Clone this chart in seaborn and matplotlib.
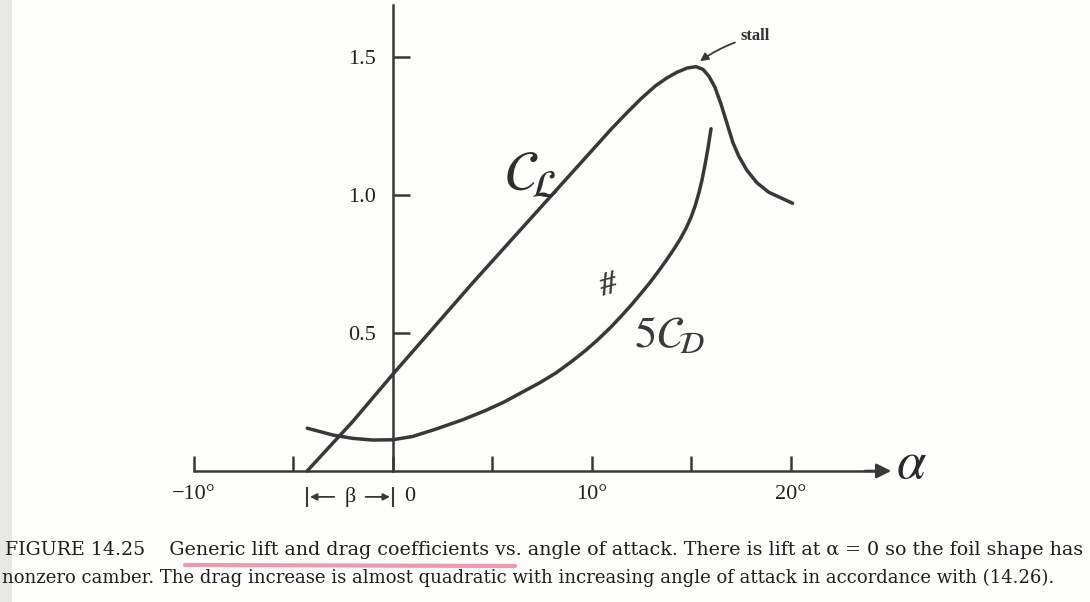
import numpy as np
import pandas as pd
import matplotlib
matplotlib.use('Agg')
import matplotlib.pyplot as plt
from matplotlib.lines import Line2D
from matplotlib.patches import Rectangle
import seaborn as sns

# values (alpha in degrees)
lift_alpha = [-4.3, -2.0, 0.0, 2.0, 4.0, 6.0, 8.0, 10.0, 11.0, 11.8, 12.5, 13.2, 13.8,
              14.3, 14.8, 15.25, 15.6, 15.9, 16.2, 16.5, 16.8, 17.1, 17.4,
              17.8, 18.3, 18.9, 19.5, 20.1]
lift_cl = [0.0, 0.18, 0.35, 0.515, 0.68, 0.84, 1.0, 1.16, 1.24, 1.30, 1.35, 1.395, 1.425,
           1.445, 1.46, 1.465, 1.455, 1.43, 1.39, 1.33, 1.26, 1.19, 1.14,
           1.09, 1.045, 1.01, 0.99, 0.97]

drag_alpha = [-4.3, -3.0, -2.0, -1.0, 0.0, 1.0, 2.1, 3.5, 4.7, 5.6, 6.5, 7.4, 8.2,
              9.0, 9.7, 10.3, 10.95, 11.5, 12.0, 12.5, 12.9, 13.3, 13.7, 14.1,
              14.45, 14.75, 15.0, 15.2, 15.4, 15.55, 15.7, 15.85, 16.0]
drag_5cd = [0.155, 0.13, 0.118, 0.112, 0.113, 0.125, 0.15, 0.185, 0.22, 0.25, 0.285,
            0.32, 0.355, 0.397, 0.437, 0.475, 0.52, 0.562, 0.602, 0.645, 0.68, 0.718,
            0.758, 0.80, 0.84, 0.88, 0.92, 0.96, 1.01, 1.055, 1.11, 1.17, 1.24]

xticks = [-10, -5, 0, 5, 10, 15, 20]
xlabels = ['\u221210\u00b0', '', '', '', '10\u00b0', '', '20\u00b0']
yticks = [0.5, 1.0, 1.5]
ylabels = ['0.5', '1.0', '1.5']
beta = -4.3

caption1 = ('FIGURE 14.25    Generic lift and drag coefficients vs. angle of attack. '
            'There is lift at \u03b1 = 0 so the foil shape has')
caption2 = ('nonzero camber. The drag increase is almost quadratic with increasing '
            'angle of attack in accordance with (14.26).')

ink = '#383838'

sns.set_theme(style='white')
plt.rcParams['font.family'] = ['Liberation Serif', 'DejaVu Serif']

fig = plt.figure(figsize=(10.9, 6.02), dpi=100)
fig.patch.set_facecolor('#fdfdfc')
ax = fig.add_axes([0.1413, 0.126, 0.730, 0.871])
ax.set_facecolor('none')

lift = pd.DataFrame({'alpha': lift_alpha, 'val': lift_cl})
drag = pd.DataFrame({'alpha': drag_alpha, 'val': drag_5cd})
sns.lineplot(data=lift, x='alpha', y='val', sort=False, color=ink, lw=2.5, ax=ax)
sns.lineplot(data=drag, x='alpha', y='val', sort=False, color=ink, lw=2.5, ax=ax)

ax.set_xlim(-12, 28)
ax.set_ylim(-0.2, 1.7)
ax.set_xlabel('')
ax.set_ylabel('')

for s in ['top', 'right']:
    ax.spines[s].set_visible(False)
ax.spines['left'].set_position(('data', 0))
ax.spines['bottom'].set_position(('data', 0))
ax.spines['left'].set_bounds(0, 1.69)
ax.spines['bottom'].set_bounds(-10, 24.3)
for s in ['left', 'bottom']:
    ax.spines[s].set_color(ink)
    ax.spines[s].set_linewidth(1.8)

ax.set_xticks(xticks)
ax.set_xticklabels(xlabels)
ax.set_yticks(yticks)
ax.set_yticklabels(ylabels)
ax.tick_params(axis='x', bottom=True, direction='in', length=11, width=1.8, color=ink,
               pad=10, labelsize=16, labelcolor='#222222')
ax.tick_params(axis='y', left=True, direction='in', length=12, width=1.8, color=ink,
               pad=12, labelsize=16, labelcolor='#222222')

# arrow on the alpha axis
ax.annotate('', xy=(25.2, 0), xytext=(23.6, 0),
            arrowprops=dict(arrowstyle='-|>', color=ink, lw=1.8, mutation_scale=22))
ax.text(26.1, 0.02, r'$\alpha$', fontsize=38, color='#2a2a2a', ha='center',
        va='center', math_fontfamily='stix', clip_on=False)

# beta bracket
yb = -0.094
ax.annotate('', xy=(beta, yb), xytext=(beta + 1.5, yb),
            arrowprops=dict(arrowstyle='-|>', color=ink, lw=1.3, mutation_scale=10))
ax.annotate('', xy=(0, yb), xytext=(-1.5, yb),
            arrowprops=dict(arrowstyle='-|>', color=ink, lw=1.3, mutation_scale=10))
ax.vlines([beta, 0], yb - 0.035, yb + 0.035, color=ink, lw=1.5)
ax.text(beta / 2, yb, '\u03b2', fontsize=16, ha='center', va='center', color='#222222')
ax.text(0.85, yb, '0', fontsize=16, ha='center', va='center', color='#222222')

# stall marker
ax.annotate('stall', xy=(15.45, 1.485), xytext=(17.5, 1.575),
            fontsize=12, fontweight='bold', color='#333333', va='center',
            arrowprops=dict(arrowstyle='-|>', color=ink, lw=1.3, mutation_scale=12,
                            shrinkA=2, shrinkB=0, connectionstyle='arc3,rad=0.1'))

# handwritten labels
ax.text(7.0, 1.07, r'$\mathcal{C}_{\!\mathcal{L}}$', fontsize=40, color='#2e2e2e',
        ha='center', va='center', math_fontfamily='stix')
ax.text(13.9, 0.49, r'$5\mathcal{C}_{\!\mathcal{D}}$', fontsize=32, color='#3a3a3a',
        ha='center', va='center', math_fontfamily='stix')
ax.text(10.8, 0.67, '#', fontsize=24, fontweight='bold', fontstyle='italic',
        color='#3a3a3a', ha='center', va='center', rotation=15)

# caption, sized so each line spans the page width like the scan
renderer = fig.canvas.get_renderer()
for y_px, x0, txt, target in [(550, 5, caption1, 1080), (578, 2, caption2, 1058)]:
    t = fig.text(x0 / 1090, 1 - y_px / 602, txt, fontsize=14, color='#1e1e1e',
                 va='center', family='DejaVu Serif')
    w = t.get_window_extent(renderer).width
    t.set_fontsize(14 * target / w)
fig.add_artist(Line2D([185 / 1090, 515 / 1090], [1 - 565 / 602, 1 - 566 / 602],
                      color='#e87a92', lw=3, alpha=0.75))
fig.add_artist(Rectangle((0, 0), 0.011, 1, color='#d9d9d6', alpha=0.6, lw=0))

fig.savefig('out.png', dpi=100)
